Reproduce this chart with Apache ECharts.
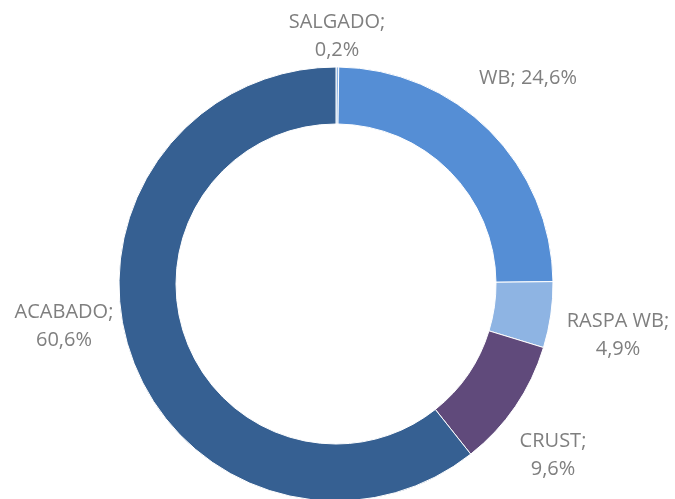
<!DOCTYPE html>
<html>
<head>
<meta charset="utf-8">
<script src="https://cdn.jsdelivr.net/npm/echarts@6/dist/echarts.min.js"></script>
<style>
    html, body { margin: 0; padding: 0; background: #fff; }
    #chart { width: 675px; height: 499px; }
</style>
</head>
<body>
<div id="chart"></div>
<script>
var categories = ['SALGADO', 'WB', 'RASPA WB', 'CRUST', 'ACABADO'];
var values = [0.2, 24.6, 4.9, 9.6, 60.6];
var colors = ['#8EB4E3', '#558ED5', '#8EB4E3', '#604A7B', '#366092'];
// label anchor points (centre of the text block)
var labelPos = [[337, 36], [528, 78], [618, 335], [553, 455], [64, 326]];

var myChart = echarts.init(document.getElementById('chart'));

var option = {
    animation: false,
    series: [{
        type: 'pie',
        center: [336, 284],
        radius: [160, 217],
        startAngle: 90,
        clockwise: true,
        avoidLabelOverlap: false,
        itemStyle: {
            borderColor: '#fff',
            borderWidth: 1
        },
        label: {
            show: true,
            position: 'outside',
            color: '#7F7F7F',
            fontFamily: 'Open Sans',
            fontSize: 20,
            lineHeight: 28,
            align: 'center',
            formatter: function (p) {
                var v = p.value.toFixed(1).replace('.', ',');
                if (p.dataIndex === 1) return p.name + '; ' + v + '%';
                return p.name + ';\n' + v + '%';
            }
        },
        labelLine: { show: false },
        labelLayout: function (params) {
            var pos = labelPos[params.dataIndex];
            return {
                x: pos[0],
                y: pos[1],
                align: 'center',
                verticalAlign: 'middle'
            };
        },
        data: categories.map(function (name, i) {
            return { name: name, value: values[i], itemStyle: { color: colors[i] } };
        })
    }]
};

myChart.setOption(option);
window.addEventListener('resize', function () {
    myChart.resize();
});
</script>
</body>
</html>
